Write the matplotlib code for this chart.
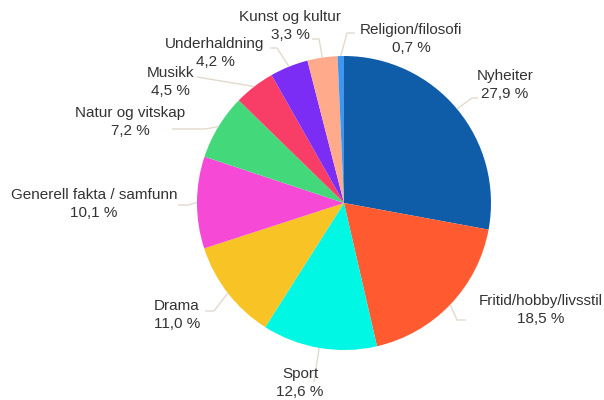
import matplotlib
matplotlib.use("Agg")
import matplotlib.pyplot as plt
import numpy as np

categories = ["Nyheiter", "Fritid/hobby/livsstil", "Sport", "Drama",
              "Generell fakta / samfunn", "Natur og vitskap", "Musikk",
              "Underhaldning", "Kunst og kultur", "Religion/filosofi"]
values = [27.9, 18.5, 12.6, 11.0, 10.1, 7.2, 4.5, 4.2, 3.3, 0.7]
colors = ["#0F5CA8", "#FF5A30", "#00F7E3", "#F8C325", "#F64AD6",
          "#43D97A", "#F83D66", "#7B2CF5", "#FFAA8A", "#3D96F0"]

# layout (pixel coords, y downward)
W, H = 604, 400
cx, cy, R = 344, 203, 147
label_pos = [(505, 85), (541, 310), (300, 383), (177, 315), (94, 204),
             (130, 122), (170, 82), (215, 53), (290, 26), (411, 39)]
# connector: elbow and end points
conn = [((472, 98), (478, 98)), ((457, 320), (466, 320)),
        ((316, 368), (314, 382)), ((214, 311), (205, 311)),
        ((188, 205), (178, 205)), ((205, 129), (172, 129)),
        ((215, 80), (197, 77)), ((277, 48), (270, 48)),
        ((319, 39), (312, 39)), ((347, 33), (355, 33))]

plt.rcParams['font.family'] = ['Liberation Sans', 'DejaVu Sans']
fig = plt.figure(figsize=(W / 100, H / 100), dpi=100)
ax = fig.add_axes([0, 0, 1, 1])

wedges, _ = ax.pie(values, colors=colors, startangle=90, counterclock=False,
                   center=(cx, H - cy), radius=R,
                   wedgeprops=dict(linewidth=0))
ax.set_xlim(0, W)
ax.set_ylim(0, H)
ax.set_aspect('equal')
ax.axis('off')

total = sum(values)
cum = 0
for i, v in enumerate(values):
    mid = (cum + v / 2) / total * 2 * np.pi
    cum += v
    ex = cx + R * np.sin(mid)
    ey = cy - R * np.cos(mid)
    (bx, by), (tx, ty) = conn[i]
    ax.plot([ex, bx, tx], [H - ey, H - by, H - ty], color='#E2DACE',
            lw=1, zorder=1, solid_capstyle='butt')
    lx, ly = label_pos[i]
    ax.text(lx, H - ly, f"{categories[i]}\n{v:.1f} %".replace('.', ','),
            ha='center', va='center', multialignment='center',
            fontsize=11, color='#333333', linespacing=1.3, zorder=3)

fig.savefig("out.png", dpi=100, facecolor='white')
